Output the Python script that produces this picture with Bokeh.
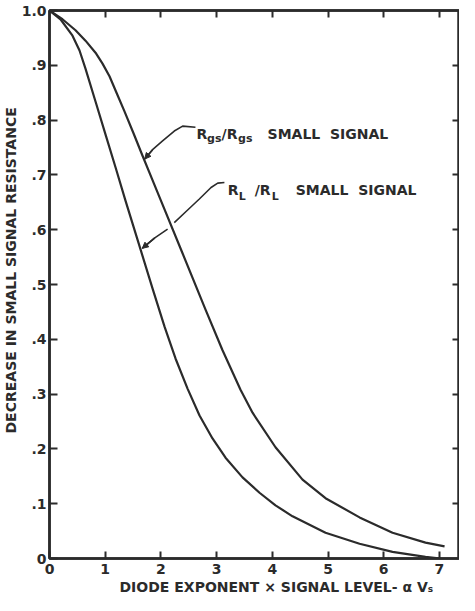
from bokeh.plotting import figure
from bokeh.models import (Range1d, LinearAxis, FixedTicker, Label, Arrow, NormalHead, Title)
from bokeh.embed import file_html
from bokeh.resources import INLINE

# ---- data ----
x_rgs = [0, 0.233, 0.467, 0.646, 0.826, 0.952, 1.077, 1.203, 1.346, 1.508, 1.670, 1.831,
         1.993, 2.388, 2.801, 3.106, 3.429, 3.645, 4.057, 4.542, 4.955, 5.566, 6.158, 6.750, 7.092]
y_rgs = [1.0, 0.984, 0.964, 0.945, 0.923, 0.903, 0.880, 0.850, 0.816, 0.776, 0.735, 0.695,
         0.655, 0.557, 0.454, 0.380, 0.308, 0.266, 0.203, 0.144, 0.110, 0.075, 0.047, 0.029, 0.022]

x_rl = [0, 0.197, 0.413, 0.539, 0.646, 0.826, 1.005, 1.185, 1.364, 1.634, 1.849, 2.065,
        2.262, 2.478, 2.693, 2.926, 3.160, 3.465, 3.770, 4.057, 4.363, 4.955, 5.566, 6.158,
        6.750, 7.020]
y_rl = [1.0, 0.984, 0.954, 0.927, 0.894, 0.834, 0.774, 0.714, 0.653, 0.564, 0.493, 0.423,
        0.365, 0.310, 0.261, 0.219, 0.184, 0.148, 0.120, 0.097, 0.077, 0.047, 0.027, 0.012,
        0.003, 0.0]

x_ticks = [0, 1, 2, 3, 4, 5, 6, 7]
y_ticks = [0, 0.1, 0.2, 0.3, 0.4, 0.5, 0.6, 0.7, 0.8, 0.9, 1.0]
y_tick_labels = ["0", ".1", ".2", ".3", ".4", ".5", ".6", ".7", ".8", ".9", "1.0"]

# leader lines of the two callouts (data units)
lead1_x = [2.62, 2.39, 2.24, 2.03, 1.85, 1.71]
lead1_y = [0.787, 0.789, 0.780, 0.762, 0.746, 0.729]
lead2a_x = [3.14, 3.02, 2.90, 2.69, 2.48, 2.24]
lead2a_y = [0.686, 0.685, 0.677, 0.656, 0.636, 0.613]
lead2b_x = [2.12, 1.89, 1.665]
lead2b_y = [0.601, 0.585, 0.566]

INK = "#2b2b2b"
FONT = "DejaVu Sans"

p = figure(width=459, height=595, output_backend="svg", toolbar_location=None,
           x_range=Range1d(0, 7.36), y_range=Range1d(0, 1.0),
           min_border_left=49, min_border_right=0, min_border_top=10, min_border_bottom=37,
           x_axis_location=None, y_axis_location=None)
p.grid.visible = False
p.outline_line_color = INK
p.outline_line_width = 2.5
p.background_fill_color = "white"
p.border_fill_color = "white"


def make_axis(ticks, tick_in, show_labels, overrides=None):
    ax = LinearAxis(ticker=FixedTicker(ticks=ticks))
    ax.major_tick_in = tick_in
    ax.major_tick_out = 0
    ax.minor_tick_line_color = None
    ax.axis_line_color = INK
    ax.axis_line_width = 2.5
    ax.major_tick_line_color = INK
    ax.major_tick_line_width = 2
    if show_labels:
        ax.major_label_text_font = FONT
        ax.major_label_text_font_style = "bold"
        ax.major_label_text_font_size = "14px"
        ax.major_label_text_color = INK
        ax.major_label_standoff = 6
    else:
        ax.major_label_text_color = None
        ax.major_label_text_font_size = "0px"
        ax.major_label_standoff = 0
    if overrides:
        ax.major_label_overrides = overrides
    return ax


left = make_axis(y_ticks, 8, True, {t: s for t, s in zip(y_ticks, y_tick_labels)})
left.major_label_standoff = 3
bottom = make_axis(x_ticks, 7, True)
bottom.major_label_standoff = 5
top = make_axis(x_ticks[1:], 7, False)
right = make_axis(y_ticks[1:-1], 7, False)
p.add_layout(left, "left")
p.add_layout(bottom, "below")
p.add_layout(top, "above")
p.add_layout(right, "right")

# axis titles
ytitle = Title(text="DECREASE IN SMALL SIGNAL RESISTANCE", align="left", offset=125,
               text_font=FONT, text_font_style="bold", text_font_size="14px",
               text_color=INK, standoff=0)
p.add_layout(ytitle, "left")
xtitle = Title(text="DIODE EXPONENT \u00d7 SIGNAL LEVEL- \u03b1 V\u209b", align="left", offset=70,
               text_font=FONT, text_font_style="bold", text_font_size="14px",
               text_color=INK, standoff=0)
p.add_layout(xtitle, "below")

# curves
p.line(x_rgs, y_rgs, line_color=INK, line_width=2.2, line_join="round")
p.line(x_rl, y_rl, line_color=INK, line_width=2.2, line_join="round")

# leader lines with arrow heads
p.line(lead1_x, lead1_y, line_color=INK, line_width=1.6, line_join="round")
p.add_layout(Arrow(end=NormalHead(size=6, fill_color=INK, line_color=INK),
                   x_start=lead1_x[-2], y_start=lead1_y[-2], x_end=lead1_x[-1], y_end=lead1_y[-1],
                   line_color=INK, line_width=1.6))
p.line(lead2a_x, lead2a_y, line_color=INK, line_width=1.6, line_join="round")
p.line(lead2b_x, lead2b_y, line_color=INK, line_width=1.6, line_join="round")
p.add_layout(Arrow(end=NormalHead(size=6, fill_color=INK, line_color=INK),
                   x_start=lead2b_x[-2], y_start=lead2b_y[-2], x_end=lead2b_x[-1], y_end=lead2b_y[-1],
                   line_color=INK, line_width=1.6))


def txt(x, y, s, xo=0, yo=0, size="14px"):
    p.add_layout(Label(x=x, y=y, text=s, x_offset=xo, y_offset=yo,
                       text_font=FONT, text_font_style="bold", text_font_size=size,
                       text_color=INK, text_align="left", text_baseline="alphabetic"))


# callout 1: Rgs/Rgs SMALL SIGNAL
a1x, a1y = 2.64, 0.774
txt(a1x, a1y, "R")
txt(a1x, a1y, "gs", xo=10.5, yo=-4, size="11px")
txt(a1x, a1y, "/R", xo=25)
txt(a1x, a1y, "gs", xo=41.5, yo=-4, size="11px")
txt(a1x, a1y, "SMALL\u00a0\u00a0SIGNAL", xo=71)

# callout 2: RL /RL SMALL SIGNAL
a2x, a2y = 3.20, 0.672
txt(a2x, a2y, "R")
txt(a2x, a2y, "L", xo=11, yo=-6, size="11px")
txt(a2x, a2y, "/R", xo=27)
txt(a2x, a2y, "L", xo=44, yo=-6, size="11px")
txt(a2x, a2y, "SMALL\u00a0\u00a0SIGNAL", xo=68)

open("out.html", "w").write(file_html(p, INLINE))
